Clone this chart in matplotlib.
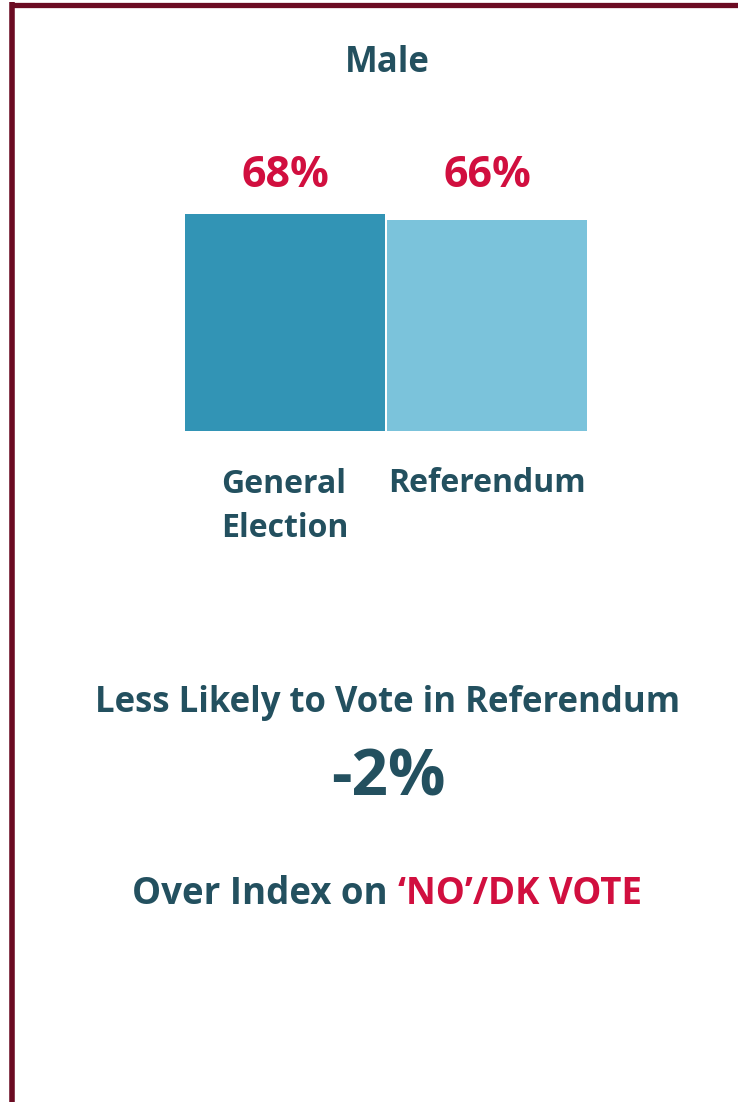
import matplotlib
matplotlib.use("Agg")
import matplotlib.pyplot as plt
from matplotlib.lines import Line2D

# data
categories = ["General\nElection", "Referendum"]
values = [68, 66]
value_labels = ["68%", "66%"]
bar_colors = ["#3294B5", "#7BC3DB"]
title = "Male"
headline = "Less Likely to Vote in Referendum"
diff_label = "-2%"
footer_dark = "Over Index on "
footer_red = "\u2018NO\u2019/DK VOTE"

DARK = "#23505F"
RED = "#D10F3F"
BORDER = "#6B0B22"
W, H = 738, 1102

plt.rcParams['font.family'] = ['Open Sans', 'DejaVu Sans']
plt.rcParams['font.weight'] = 'bold'

fig = plt.figure(figsize=(W / 100, H / 100), dpi=100)
fig.patch.set_facecolor("white")


def fy(px):
    return 1 - px / H


# frame (left and top edges only)
fig.add_artist(Line2D([12.5 / W, 12.5 / W], [0, fy(2)], transform=fig.transFigure,
                      color=BORDER, linewidth=4.0, solid_capstyle='butt'))
fig.add_artist(Line2D([10 / W, 1], [fy(4.5), fy(4.5)], transform=fig.transFigure,
                      color=BORDER, linewidth=3.8, solid_capstyle='butt'))

# bars
ax = fig.add_axes([184 / W, fy(431), 404 / W, 319 / H])
ax.bar(range(len(values)), values, width=0.99, color=bar_colors)
ax.set_xlim(-0.5, 1.5)
ax.set_ylim(0, 100)
ax.axis('off')

for i, lab in enumerate(value_labels):
    ax.text(i, (431 - 187) / 319, lab, transform=ax.get_xaxis_transform(),
            ha='center', va='baseline', color=RED, fontsize=31, fontweight='bold')

# first-line baselines at y=492 px; multi-line text aligns on its last line
for i, cat in enumerate(categories):
    n = cat.count("\n")
    ax.text(i, (431 - 492 - 45 * n) / 319, cat, transform=ax.get_xaxis_transform(),
            ha='center', va='baseline', multialignment='left', color=DARK,
            fontsize=23, fontweight='bold', linespacing=1.43)

fig.text(387 / W, fy(72), title, ha='center', va='baseline', color=DARK,
         fontsize=25, fontweight='bold')
fig.text(388 / W, fy(712), headline, ha='center', va='baseline', color=DARK,
         fontsize=25, fontweight='bold')
fig.text(388 / W, fy(795), diff_label, ha='center', va='baseline', color=DARK,
         fontsize=46, fontweight='bold')

# mixed-colour line, centred as a whole
t1 = fig.text(0, fy(904), footer_dark, ha='left', va='baseline', color=DARK,
              fontsize=26.4, fontweight='bold')
t2 = fig.text(0, fy(904), footer_red, ha='left', va='baseline', color=RED,
              fontsize=26.4, fontweight='bold')
fig.canvas.draw()
w1 = t1.get_window_extent().width
w2 = t2.get_window_extent().width
x0 = 387 - (w1 + w2) / 2
t1.set_x(x0 / W)
t2.set_x((x0 + w1) / W)

fig.savefig("out.png", dpi=100, facecolor="white")
